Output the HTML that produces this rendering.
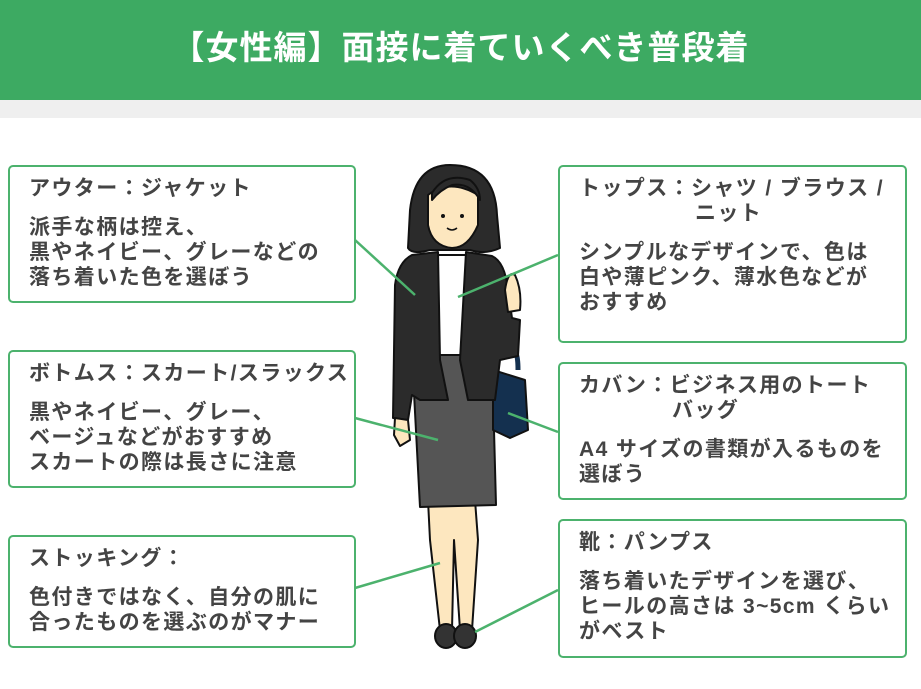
<!DOCTYPE html>
<html><head><meta charset="utf-8"><style>
body{margin:0;width:921px;height:689px;background:#fff;position:relative;overflow:hidden;font-family:"Liberation Sans","Noto Sans CJK JP",sans-serif;}
.hdr{position:absolute;left:0;top:0;width:921px;height:100px;background:#3daa62;color:#fff;font-size:33px;font-weight:bold;text-align:center;line-height:96px;letter-spacing:1px}
.strip{position:absolute;left:0;top:100px;width:921px;height:18px;background:#efefef}
.box{position:absolute;border:2px solid #4cb26d;border-radius:5px;box-sizing:border-box;color:#444;font-weight:bold;font-size:21px;letter-spacing:1.4px;line-height:25px;padding:9px 0 0 19px;white-space:nowrap}
.t{margin-bottom:14px}
svg{position:absolute;left:0;top:0}
</style></head><body>
<div class="hdr">【女性編】面接に着ていくべき普段着</div>
<div class="strip"></div>
<svg width="921" height="689">
<g stroke="#111" stroke-width="2" stroke-linejoin="round">
<path d="M428 500 L475 500 L478 540 L472 630 L460 630 L454 540 L452 630 L440 630 L430 540 Z" fill="#fde7bf"/>
<ellipse cx="446" cy="636" rx="11" ry="12" fill="#333"/>
<ellipse cx="465" cy="636" rx="11" ry="12" fill="#333"/>
<path d="M412 355 L492 355 L496 505 L420 507 Z" fill="#555"/>
<path d="M510 355 Q518 345 518 370" fill="none" stroke="#14304f" stroke-width="5"/>
<path d="M493 370 L525 380 L528 430 L510 438 L493 430 Z" fill="#14304f"/>
<rect x="438" y="255" width="28" height="100" fill="#fff"/>
<path d="M412 255 L438 252 L440 360 L448 400 L420 400 L412 395 L408 420 L393 418 L395 285 Q398 262 412 255 Z" fill="#2b2b2b"/>
<path d="M466 252 L492 256 Q505 262 508 290 L512 318 L520 320 L518 356 L500 360 L495 400 L468 400 L460 360 Z" fill="#2b2b2b"/>
<path d="M395 418 L408 420 L410 440 L400 446 L394 435 Z" fill="#fde7bf"/>
<path d="M505 290 Q508 270 515 275 Q522 290 520 310 L508 312 Z" fill="#fde7bf"/>
<path d="M450 165 Q495 165 497 215 L500 248 Q485 255 470 250 L430 250 Q412 255 408 248 L410 210 Q415 165 450 165 Z" fill="#2b2b2b"/>
<path d="M428 195 Q450 178 478 195 L478 225 Q468 248 452 248 Q432 246 428 225 Z" fill="#fde7bf"/>
<path d="M432 193 Q445 172 470 180 Q480 188 480 200 Q470 182 452 185 Q440 190 432 200 Z" fill="#2b2b2b"/>
</g>
<circle cx="443" cy="216" r="2" fill="#111"/><circle cx="462" cy="216" r="2" fill="#111"/>
<path d="M447 228 Q452 232 457 228" stroke="#111" fill="none" stroke-width="1.5"/>
<g stroke="#4cb26d" stroke-width="2.5">
<line x1="355" y1="240" x2="415" y2="295"/>
<line x1="558" y1="255" x2="458" y2="297"/>
<line x1="355" y1="418" x2="438" y2="440"/>
<line x1="558" y1="432" x2="508" y2="413"/>
<line x1="355" y1="588" x2="440" y2="563"/>
<line x1="558" y1="590" x2="475" y2="632"/>
</g>
</svg>
<div class="box" style="left:8px;top:165px;width:348px;height:138px"><div class="t">アウター：ジャケット</div>派手な柄は控え、<br>黒やネイビー、グレーなどの<br>落ち着いた色を選ぼう</div>
<div class="box" style="left:8px;top:350px;width:348px;height:138px"><div class="t">ボトムス：スカート/スラックス</div>黒やネイビー、グレー、<br>ベージュなどがおすすめ<br>スカートの際は長さに注意</div>
<div class="box" style="left:8px;top:535px;width:348px;height:113px"><div class="t">ストッキング：</div>色付きではなく、自分の肌に<br>合ったものを選ぶのがマナー</div>
<div class="box" style="left:558px;top:165px;width:349px;height:178px"><div class="t">トップス：シャツ / ブラウス /<br><span style="padding-left:116px">ニット</span></div>シンプルなデザインで、色は<br>白や薄ピンク、薄水色などが<br>おすすめ</div>
<div class="box" style="left:558px;top:362px;width:349px;height:138px"><div class="t">カバン：ビジネス用のトート<br><span style="padding-left:93px">バッグ</span></div>A4 サイズの書類が入るものを<br>選ぼう</div>
<div class="box" style="left:558px;top:519px;width:349px;height:139px"><div class="t">靴：パンプス</div>落ち着いたデザインを選び、<br>ヒールの高さは 3~5cm くらい<br>がベスト</div>
</body></html>
